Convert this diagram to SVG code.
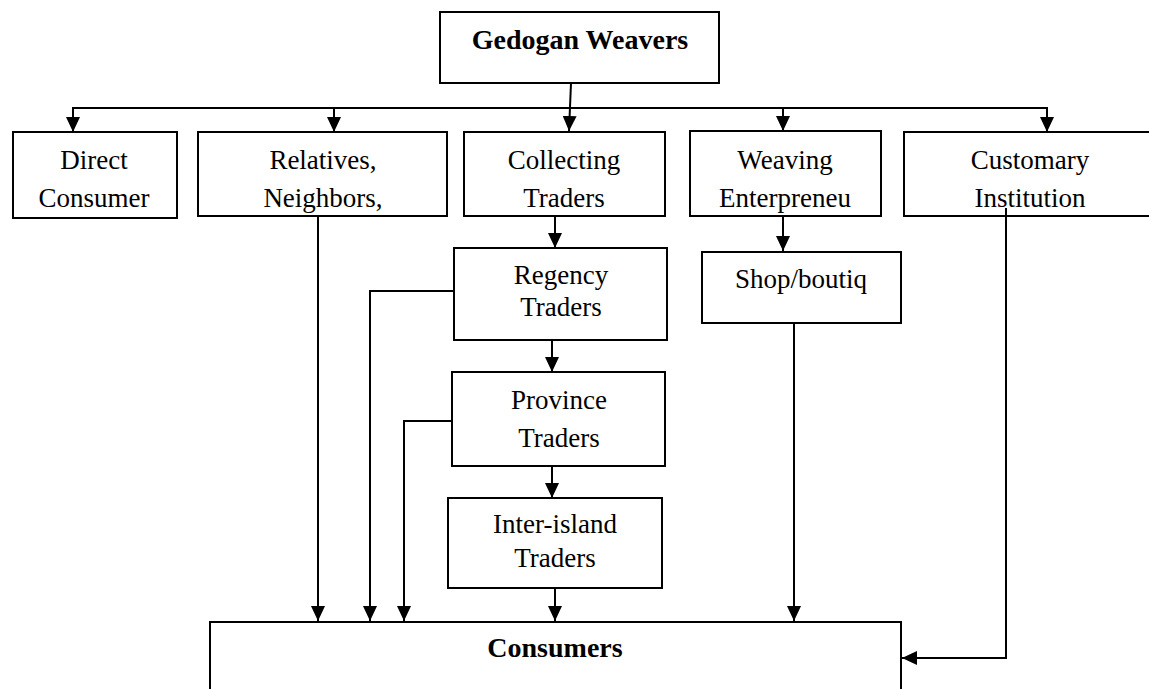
<svg xmlns="http://www.w3.org/2000/svg" width="1149" height="689" viewBox="0 0 1149 689">
<style>
.box{fill:#fff;stroke:#000;stroke-width:2}
.t{font-family:"Liberation Serif","Times New Roman",serif;font-size:27px;fill:#000;text-anchor:middle}
.b{font-weight:bold;font-size:28px}
.c{fill:none;stroke:#000;stroke-width:2}
</style>
<defs>
<marker id="ah" viewBox="0 0 15 14" refX="15" refY="7" markerWidth="15" markerHeight="14" markerUnits="userSpaceOnUse" orient="auto">
<path d="M0,0 L15,7 L0,14 z" fill="#000"/>
</marker>
</defs>
<rect width="1149" height="689" fill="#fff"/>
<g id="connectors">
<line class="c" x1="73" y1="108" x2="1047" y2="108"/>
<line class="c" x1="571" y1="83" x2="569" y2="131" marker-end="url(#ah)"/>
<line class="c" x1="73" y1="107" x2="73" y2="132" marker-end="url(#ah)"/>
<line class="c" x1="334" y1="107" x2="334" y2="132" marker-end="url(#ah)"/>
<line class="c" x1="783" y1="107" x2="783" y2="131" marker-end="url(#ah)"/>
<line class="c" x1="1047" y1="107" x2="1047" y2="132" marker-end="url(#ah)"/>
<line class="c" x1="318" y1="216" x2="318" y2="621" marker-end="url(#ah)"/>
<line class="c" x1="555" y1="216" x2="555" y2="248" marker-end="url(#ah)"/>
<line class="c" x1="552" y1="340" x2="552" y2="372" marker-end="url(#ah)"/>
<line class="c" x1="552" y1="466" x2="552" y2="498" marker-end="url(#ah)"/>
<line class="c" x1="555" y1="588" x2="555" y2="621" marker-end="url(#ah)"/>
<path class="c" d="M454,291 H370 V621" marker-end="url(#ah)"/>
<path class="c" d="M452,421 H404 V621" marker-end="url(#ah)"/>
<line class="c" x1="783" y1="216" x2="783" y2="251" marker-end="url(#ah)"/>
<line class="c" x1="794" y1="323" x2="794" y2="621" marker-end="url(#ah)"/>
<path class="c" d="M1006,208 V658 H902" marker-end="url(#ah)"/>
</g>
<g id="gedogan">
<rect class="box" x="440" y="12" width="279" height="71"/>
<text class="t b" x="580" y="49">Gedogan Weavers</text>
</g>
<g id="direct">
<rect class="box" x="13" y="132" width="164" height="86"/>
<text class="t" x="94" y="169">Direct</text>
<text class="t" x="94" y="207">Consumer</text>
</g>
<g id="relatives">
<rect class="box" x="198" y="132" width="249" height="84"/>
<text class="t" x="323" y="169">Relatives,</text>
<text class="t" x="323" y="207">Neighbors,</text>
</g>
<g id="collecting">
<rect class="box" x="464" y="132" width="201" height="84"/>
<text class="t" x="564" y="169">Collecting</text>
<text class="t" x="564" y="207">Traders</text>
</g>
<g id="weaving">
<rect class="box" x="690" y="131" width="191" height="85"/>
<text class="t" x="785" y="169">Weaving</text>
<text class="t" x="785" y="207">Enterpreneu</text>
</g>
<g id="customary">
<rect class="box" x="904" y="132" width="260" height="84"/>
<text class="t" x="1030" y="169">Customary</text>
<text class="t" x="1030" y="207">Institution</text>
</g>
<line class="c" x1="1006" y1="208" x2="1006" y2="216"/>
<g id="regency">
<rect class="box" x="454" y="248" width="213" height="92"/>
<text class="t" x="561" y="284">Regency</text>
<text class="t" x="561" y="316">Traders</text>
</g>
<g id="shop">
<rect class="box" x="702" y="252" width="199" height="71"/>
<text class="t" x="801" y="288">Shop/boutiq</text>
</g>
<g id="province">
<rect class="box" x="452" y="372" width="213" height="94"/>
<text class="t" x="559" y="409">Province</text>
<text class="t" x="559" y="447">Traders</text>
</g>
<g id="interisland">
<rect class="box" x="448" y="498" width="214" height="90"/>
<text class="t" x="555" y="533">Inter-island</text>
<text class="t" x="555" y="567">Traders</text>
</g>
<g id="consumers">
<path class="c" d="M210,700 V622 H901 V700"/>
<text class="t b" x="555" y="657">Consumers</text>
</g>
</svg>
